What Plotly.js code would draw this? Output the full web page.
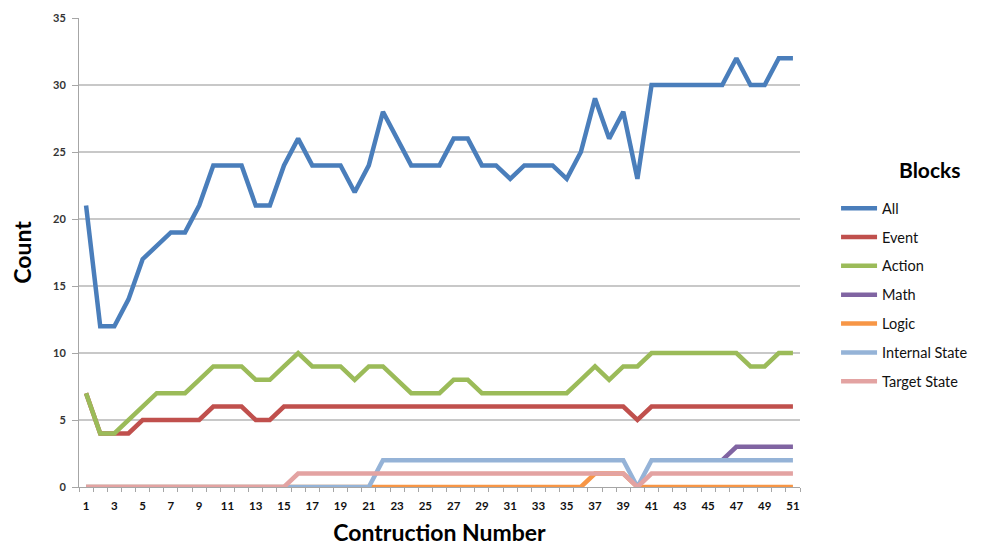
<!DOCTYPE html>
<html>
<head>
<meta charset="utf-8">
<script src="https://cdn.plot.ly/plotly-3.0.1.min.js"></script>
<style>html,body{margin:0;padding:0;background:#fff;}#chart{width:990px;height:546px;}</style>
</head>
<body>
<div id="chart"></div>
<script>
const construction = Array.from({length: 51}, (_, i) => i + 1);
const seriesNames = ["All", "Event", "Action", "Math", "Logic", "Internal State", "Target State"];
const seriesColors = ["#4A7EBB", "#C0504D", "#9BBB59", "#8064A2", "#F79646", "#95B3D7", "#E3A3A2"];

const allBlocks = [21,12,12,14,17,18,19,19,21,24,24,24,21,21,24,26,24,24,24,22,24,28,26,24,24,24,26,26,24,24,23,24,24,24,23,25,29,26,28,23,30,30,30,30,30,30,32,30,30,32,32];
const eventBlocks = [7,4,4,4,5,5,5,5,5,6,6,6,5,5,6,6,6,6,6,6,6,6,6,6,6,6,6,6,6,6,6,6,6,6,6,6,6,6,6,5,6,6,6,6,6,6,6,6,6,6,6];
const actionBlocks = [7,4,4,5,6,7,7,7,8,9,9,9,8,8,9,10,9,9,9,8,9,9,8,7,7,7,8,8,7,7,7,7,7,7,7,8,9,8,9,9,10,10,10,10,10,10,10,9,9,10,10];
const mathBlocks = [null,null,null,null,null,null,null,null,null,null,null,null,null,null,null,null,null,null,null,null,null,null,null,null,null,null,null,null,null,null,null,null,null,null,null,null,null,null,null,null,null,null,null,null,null,2,3,3,3,3,3];
const logicBlocks = [0,0,0,0,0,0,0,0,0,0,0,0,0,0,0,0,0,0,0,0,0,0,0,0,0,0,0,0,0,0,0,0,0,0,0,0,1,1,1,0,0,0,0,0,0,0,0,0,0,0,0];
const internalStateBlocks = [0,0,0,0,0,0,0,0,0,0,0,0,0,0,0,0,0,0,0,0,0,2,2,2,2,2,2,2,2,2,2,2,2,2,2,2,2,2,2,0,2,2,2,2,2,2,2,2,2,2,2];
const targetStateBlocks = [0,0,0,0,0,0,0,0,0,0,0,0,0,0,0,1,1,1,1,1,1,1,1,1,1,1,1,1,1,1,1,1,1,1,1,1,1,1,1,0,1,1,1,1,1,1,1,1,1,1,1];

const yTicks = [0, 5, 10, 15, 20, 25, 30, 35];
const xTickVals = construction.filter(v => v % 2 === 1);

const seriesValues = [allBlocks, eventBlocks, actionBlocks, mathBlocks, logicBlocks, internalStateBlocks, targetStateBlocks];

const traces = seriesNames.map((name, i) => ({
  type: "scatter",
  mode: "lines",
  name: name,
  x: construction,
  y: seriesValues[i],
  connectgaps: false,
  legendgroup: "g" + i,
  line: {color: seriesColors[i], width: 4.5},
  hoverinfo: "x+y+name"
}));

const font = "Lato, 'Open Sans', sans-serif";

const layout = {
  width: 990,
  height: 546,
  margin: {l: 79, r: 190, t: 18, b: 59},
  paper_bgcolor: "#fff",
  plot_bgcolor: "#fff",
  font: {family: font, color: "#222"},
  showlegend: true,
  xaxis: {
    range: [0.5, 51.5],
    tickvals: xTickVals,
    ticktext: xTickVals.map(String),
    ticks: "",
    ticklabelstandoff: 8,
    tickfont: {size: 11.5, color: "#111", family: font, weight: "bold"},
    showgrid: false,
    zeroline: false,
    showline: true,
    linecolor: "#a6a6a6",
    linewidth: 1,
    minor: {tick0: 0.5, dtick: 1, ticks: "outside", ticklen: 4, tickcolor: "#a6a6a6", showgrid: false},
    title: {text: "Contruction Number", font: {size: 23, family: font, color: "#000", weight: "bold"}, standoff: 19},
    fixedrange: true
  },
  yaxis: {
    range: [0, 35],
    tickvals: yTicks,
    ticks: "outside",
    ticklen: 6,
    tickcolor: "#a6a6a6",
    ticklabelstandoff: 4,
    tickfont: {size: 11, color: "#333", family: font, weight: "bold"},
    showgrid: true,
    gridcolor: "#c8c8c8",
    gridwidth: 1.5,
    zeroline: false,
    showline: true,
    linecolor: "#a6a6a6",
    linewidth: 1,
    title: {text: "Count", font: {size: 23, family: font, color: "#000", weight: "bold"}, standoff: 14},
    fixedrange: true
  },
  legend: {
    x: 1.05,
    xanchor: "left",
    y: 0.41,
    yanchor: "middle",
    traceorder: "grouped",
    tracegroupgap: 7,
    itemwidth: 36,
    font: {size: 14.5, family: font, color: "#111"},
    bgcolor: "rgba(0,0,0,0)"
  },
  annotations: [{
    text: "<b>Blocks</b>",
    xref: "paper", yref: "paper",
    x: 1.18, y: 0.676,
    xanchor: "center", yanchor: "middle",
    showarrow: false,
    font: {size: 21, family: font, color: "#000"}
  }]
};

Plotly.newPlot("chart", traces, layout, {displayModeBar: false, responsive: false});
</script>
</body>
</html>
